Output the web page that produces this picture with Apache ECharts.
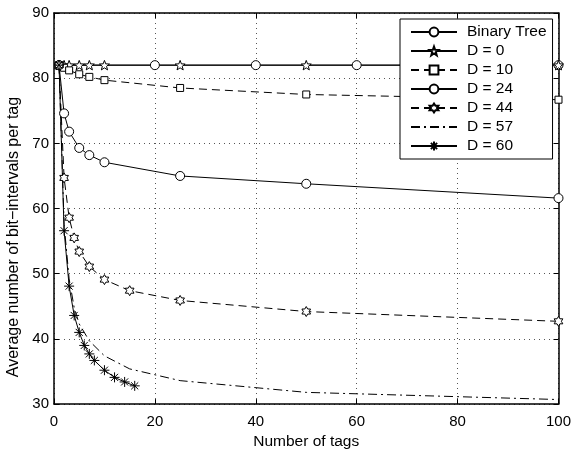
<!DOCTYPE html>
<html>
<head>
<meta charset="utf-8">
<script src="https://cdn.jsdelivr.net/npm/echarts@6/dist/echarts.min.js"></script>
<style>html,body{margin:0;padding:0;background:#fff}#c{width:574px;height:455px}</style>
</head>
<body>
<div id="c"></div>
<script>
// ---- data ----
const xTicks = [0, 20, 40, 60, 80, 100];
const yTicks = [30, 40, 50, 60, 70, 80, 90];
const seriesNames = ['Binary Tree', 'D = 0', 'D = 10', 'D = 24', 'D = 44', 'D = 57', 'D = 60'];

const btX = [1, 20, 40, 60, 80, 100];
const btY = [82, 82, 82, 82, 82, 82];

const d0X = [1, 2, 3, 5, 7, 10, 25, 50, 100];
const d0Y = [82, 82, 82, 82, 82, 82, 82, 82, 82];

const d10X = [1, 2, 3, 5, 7, 10, 25, 50, 100];
const d10Y = [82, 81.6, 81.2, 80.6, 80.2, 79.7, 78.5, 77.5, 76.7];

const d24X = [1, 2, 3, 5, 7, 10, 25, 50, 100];
const d24Y = [82, 74.6, 71.8, 69.3, 68.2, 67.1, 65.0, 63.8, 61.6];

const d44X = [1, 2, 3, 4, 5, 7, 10, 15, 25, 50, 100];
const d44Y = [82, 64.7, 58.6, 55.5, 53.4, 51.1, 49.1, 47.4, 45.9, 44.2, 42.7];

const d57X = [1, 2, 3, 4, 5, 7, 10, 15, 25, 50, 100];
const d57Y = [82, 57.6, 49.2, 44.8, 42.3, 39.7, 37.4, 35.4, 33.6, 31.8, 30.7];

const d60X = [1, 2, 3, 4, 5, 6, 7, 8, 10, 12, 14, 16];
const d60Y = [82, 56.6, 48.1, 43.6, 41.0, 39.0, 37.7, 36.7, 35.2, 34.1, 33.4, 32.8];

// ---- symbols ----
function starPath(n, inner) {
  let p = '';
  for (let i = 0; i < 2 * n; i++) {
    const a = -Math.PI / 2 + i * Math.PI / n;
    const r = i % 2 === 0 ? 10 : 10 * inner;
    p += (i === 0 ? 'M' : 'L') + (r * Math.cos(a)).toFixed(3) + ',' + (r * Math.sin(a)).toFixed(3);
  }
  return 'path://' + p + 'Z';
}
const star5 = starPath(5, 0.42);
const hexa = starPath(6, 0.58);
const asterisk = 'path://M0,-10L0,10M-10,0L10,0M-7.07,-7.07L7.07,7.07M-7.07,7.07L7.07,-7.07';

const FONT = "'Liberation Sans', Arial, Helvetica, sans-serif";
const pairs = (xs, ys) => xs.map((x, i) => [x, ys[i]]);

function mkSeries(name, xs, ys, symbol, size, dash, opts) {
  opts = opts || {};
  return {
    name: name,
    type: 'line',
    data: pairs(xs, ys),
    symbol: symbol,
    symbolSize: size,
    symbolKeepAspect: !!opts.keep,
    showSymbol: !opts.hide,
    showAllSymbol: true,
    animation: false,
    lineStyle: { color: '#000', width: 1, type: dash },
    itemStyle: opts.hide
      ? { color: 'rgba(0,0,0,0)', borderColor: 'rgba(0,0,0,0)', borderWidth: 0 }
      : { color: opts.fill || '#fff', borderColor: '#000', borderWidth: 1, opacity: 1 },
    emphasis: { disabled: true },
    z: 3
  };
}

const series = [
  mkSeries(seriesNames[0], btX, btY, 'circle', 9, 'solid'),
  mkSeries(seriesNames[1], d0X, d0Y, star5, 10, 'solid', { keep: true }),
  mkSeries(seriesNames[2], d10X, d10Y, 'rect', 7, [8, 5]),
  mkSeries(seriesNames[3], d24X, d24Y, 'circle', 9, 'solid'),
  mkSeries(seriesNames[4], d44X, d44Y, hexa, 10, [8, 5], { keep: true }),
  mkSeries(seriesNames[5], d57X, d57Y, 'circle', 1, [9, 4, 2, 4], { hide: true }),
  mkSeries(seriesNames[6], d60X, d60Y, asterisk, 10, 'solid', { keep: true, fill: '#000' })
];

const axisLine = { show: true, onZero: false, lineStyle: { color: '#000', width: 1.5 } };
const tick = { show: true, inside: true, length: 5, lineStyle: { color: '#000', width: 1 } };
const grid = { show: true, lineStyle: { color: '#555', width: 1, type: [1, 4] } };

const chart = echarts.init(document.getElementById('c'), null, { renderer: 'canvas' });
chart.setOption({
  backgroundColor: '#fff',
  animation: false,
  grid: { left: 54, right: 13, top: 13, bottom: 45, containLabel: false },
  xAxis: [
    { type: 'value', position: 'bottom', min: xTicks[0], max: xTicks[xTicks.length - 1], interval: 20,
      axisLine: axisLine, axisTick: tick, splitLine: grid,
      axisLabel: { color: '#000', fontSize: 15, fontFamily: FONT, margin: 10 },
      name: 'Number of tags', nameLocation: 'middle', nameGap: 29,
      nameTextStyle: { color: '#000', fontSize: 15.5, fontFamily: FONT } },
    { type: 'value', position: 'top', min: xTicks[0], max: xTicks[xTicks.length - 1], interval: 20,
      axisLine: axisLine, axisTick: tick, splitLine: { show: false }, axisLabel: { show: false } }
  ],
  yAxis: [
    { type: 'value', position: 'left', min: yTicks[0], max: yTicks[yTicks.length - 1], interval: 10,
      axisLine: axisLine, axisTick: tick, splitLine: grid,
      axisLabel: { color: '#000', fontSize: 15, fontFamily: FONT, margin: 5 } },
    { type: 'value', position: 'right', min: yTicks[0], max: yTicks[yTicks.length - 1], interval: 10,
      axisLine: axisLine, axisTick: tick, splitLine: { show: false }, axisLabel: { show: false } }
  ],
  legend: {
    orient: 'vertical',
    left: 400, top: 19,
    width: 151,
    data: seriesNames,
    backgroundColor: '#fff',
    borderColor: '#000', borderWidth: 1,
    padding: [5, 6, 5, 10],
    itemWidth: 46, itemHeight: 11, itemGap: 3,
    textStyle: { color: '#000', fontSize: 15.5, fontFamily: FONT, lineHeight: 15, padding: [0, 0, 0, 5] },
    selectedMode: false,
    z: 10
  },
  graphic: [
    { type: 'text', x: 14, y: 237, rotation: Math.PI / 2,
      style: { text: 'Average number of bit\u2212intervals per tag', fill: '#000', fontSize: 16, fontFamily: FONT,
               textAlign: 'center', textVerticalAlign: 'middle' } }
  ],
  series: series
});
</script>
</body>
</html>
